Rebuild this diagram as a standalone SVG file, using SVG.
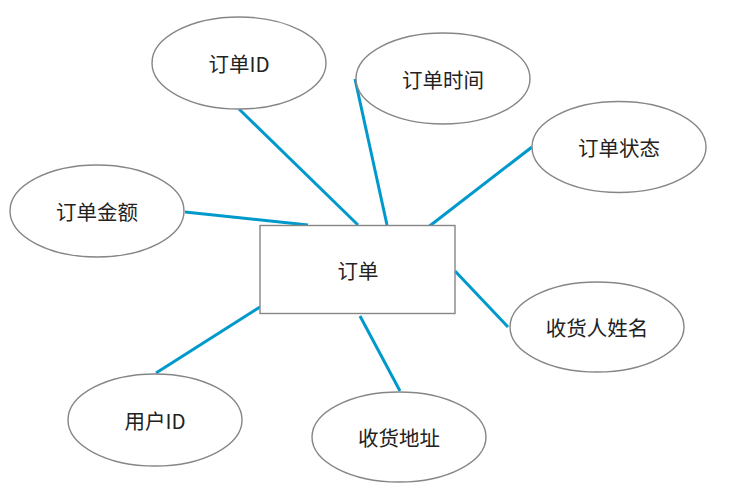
<svg xmlns="http://www.w3.org/2000/svg" width="730" height="493" viewBox="0 0 730 493">
<style>
.n{fill:#fff;stroke:#868686;stroke-width:1.4}
.t{font-family:"Noto Sans CJK SC","Liberation Sans",sans-serif;font-size:20.5px;fill:#222;text-anchor:middle;dominant-baseline:central}
.c line{stroke:#0099CC;stroke-width:3;stroke-linecap:butt}
</style>
<rect width="730" height="493" fill="#fff"/>
<g id="connectors" class="c">
<line x1="239" y1="109" x2="358" y2="225"/>
<line x1="355" y1="79" x2="387" y2="225"/>
<line x1="532" y1="147" x2="427" y2="228"/>
<line x1="185" y1="212" x2="308" y2="225"/>
<line x1="455" y1="271" x2="508" y2="327"/>
<line x1="260" y1="307" x2="156" y2="373"/>
<line x1="360" y1="316" x2="400" y2="391"/>
</g>
<g id="order">
<rect class="n" x="260" y="225.5" width="195" height="88"/>
<text class="t" x="358" y="270">订单</text>
</g>
<g id="order-id">
<ellipse class="n" cx="239" cy="63" rx="87" ry="46"/>
<text class="t" x="239" y="63">订单ID</text>
</g>
<g id="order-time">
<ellipse class="n" cx="443" cy="78.5" rx="87" ry="45.5"/>
<text class="t" x="443" y="78.5">订单时间</text>
</g>
<g id="order-status">
<ellipse class="n" cx="619" cy="147" rx="87" ry="45.5"/>
<text class="t" x="619" y="147">订单状态</text>
</g>
<g id="order-amount">
<ellipse class="n" cx="97" cy="211" rx="87" ry="46"/>
<text class="t" x="97" y="211">订单金额</text>
</g>
<g id="receiver-name">
<ellipse class="n" cx="597" cy="327" rx="87" ry="45"/>
<text class="t" x="597" y="327">收货人姓名</text>
</g>
<g id="user-id">
<ellipse class="n" cx="155" cy="420" rx="87" ry="46"/>
<text class="t" x="155" y="420">用户ID</text>
</g>
<g id="address">
<ellipse class="n" cx="399" cy="437" rx="87" ry="45"/>
<text class="t" x="399" y="437">收货地址</text>
</g>
</svg>
